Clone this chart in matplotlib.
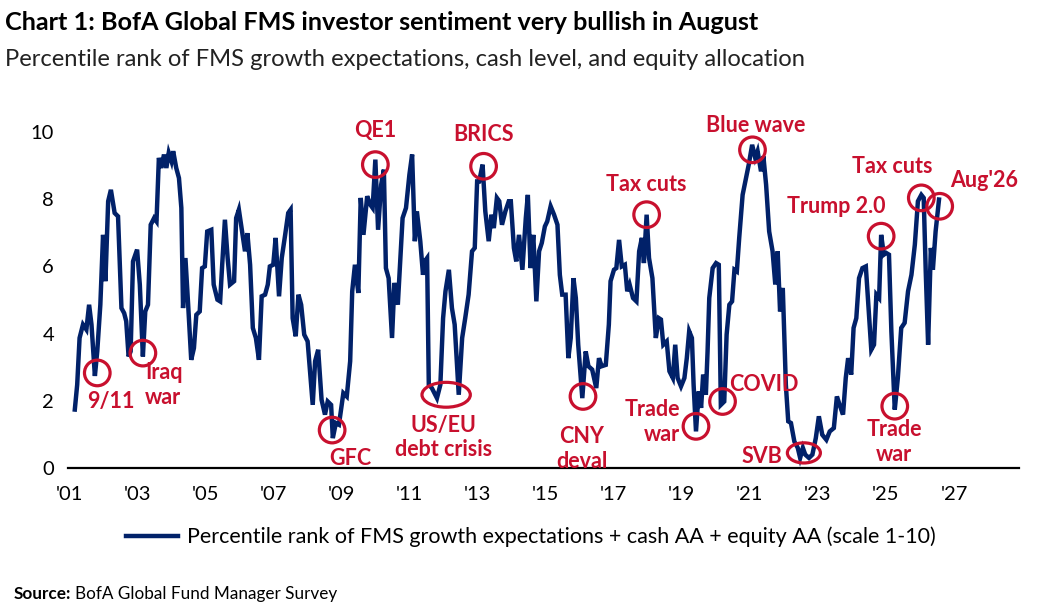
import matplotlib
matplotlib.use("Agg")
import matplotlib.pyplot as plt
from matplotlib.patches import Ellipse

# decimal year / percentile-rank reading of the FMS composite
years = [2001.17, 2001.24, 2001.31, 2001.41, 2001.51, 2001.59, 2001.66, 2001.76, 2001.83, 2001.92,
         2002.00, 2002.07, 2002.15, 2002.23, 2002.34, 2002.44, 2002.54, 2002.62, 2002.68, 2002.75,
         2002.81, 2002.88, 2003.00, 2003.08, 2003.17, 2003.24, 2003.32, 2003.40, 2003.50, 2003.57,
         2003.64, 2003.71, 2003.79, 2003.86, 2003.93, 2004.01, 2004.06, 2004.15, 2004.23, 2004.30,
         2004.35, 2004.42, 2004.50, 2004.59, 2004.67, 2004.74, 2004.84, 2004.91, 2004.99, 2005.06,
         2005.18, 2005.25, 2005.36, 2005.44, 2005.50, 2005.58, 2005.66, 2005.73, 2005.85, 2005.91,
         2005.99, 2006.07, 2006.17, 2006.24, 2006.32, 2006.40, 2006.49, 2006.58, 2006.66, 2006.76,
         2006.84, 2006.90, 2007.00, 2007.07, 2007.17, 2007.25, 2007.35, 2007.44, 2007.51, 2007.57,
         2007.66, 2007.74, 2007.82, 2007.91, 2008.01, 2008.08, 2008.16, 2008.23, 2008.32, 2008.42,
         2008.52, 2008.60, 2008.70, 2008.75, 2008.84, 2008.93, 2009.06, 2009.16, 2009.26, 2009.32,
         2009.40, 2009.50, 2009.57, 2009.65, 2009.76, 2009.85, 2009.92, 2010.00, 2010.08, 2010.17,
         2010.25, 2010.31, 2010.39, 2010.49, 2010.56, 2010.66, 2010.73, 2010.80, 2010.90, 2011.00,
         2011.08, 2011.16, 2011.22, 2011.32, 2011.40, 2011.45, 2011.52, 2011.57, 2011.66, 2011.81,
         2011.91, 2011.99, 2012.06, 2012.16, 2012.25, 2012.33, 2012.45, 2012.55, 2012.64, 2012.74,
         2012.84, 2012.92, 2012.99, 2013.05, 2013.15, 2013.23, 2013.33, 2013.41, 2013.48, 2013.57,
         2013.64, 2013.72, 2013.82, 2013.92, 2013.98, 2014.07, 2014.14, 2014.22, 2014.32, 2014.42,
         2014.48, 2014.56, 2014.64, 2014.73, 2014.81, 2014.89, 2014.98, 2015.05, 2015.15, 2015.25,
         2015.35, 2015.42, 2015.49, 2015.59, 2015.67, 2015.74, 2015.82, 2015.89, 2015.96, 2016.08,
         2016.18, 2016.26, 2016.37, 2016.49, 2016.57, 2016.65, 2016.77, 2016.86, 2016.91, 2017.01,
         2017.08, 2017.16, 2017.24, 2017.33, 2017.40, 2017.47, 2017.57, 2017.67, 2017.75, 2017.83,
         2017.89, 2017.97, 2018.04, 2018.14, 2018.24, 2018.33, 2018.39, 2018.46, 2018.56, 2018.64,
         2018.74, 2018.81, 2018.88, 2018.98, 2019.08, 2019.15, 2019.22, 2019.30, 2019.35, 2019.42,
         2019.50, 2019.57, 2019.63, 2019.71, 2019.76, 2019.81, 2019.91, 2020.01, 2020.09, 2020.15,
         2020.25, 2020.32, 2020.40, 2020.48, 2020.55, 2020.62, 2020.69, 2020.79, 2020.87, 2020.97,
         2021.07, 2021.16, 2021.23, 2021.33, 2021.40, 2021.48, 2021.57, 2021.67, 2021.75, 2021.82,
         2021.89, 2021.97, 2022.06, 2022.13, 2022.21, 2022.31, 2022.41, 2022.48, 2022.56, 2022.63,
         2022.74, 2022.84, 2022.94, 2023.03, 2023.13, 2023.25, 2023.35, 2023.47, 2023.56, 2023.64,
         2023.74, 2023.82, 2023.89, 2023.98, 2024.05, 2024.13, 2024.21, 2024.31, 2024.41, 2024.47,
         2024.57, 2024.65, 2024.72, 2024.80, 2024.86, 2024.94, 2025.01, 2025.09, 2025.16, 2025.26,
         2025.35, 2025.45, 2025.55, 2025.65, 2025.75, 2025.85, 2025.94, 2026.04, 2026.11, 2026.17,
         2026.24, 2026.32, 2026.38, 2026.46, 2026.56]
values = [1.74, 2.48, 3.87, 4.27, 4.12, 4.86, 4.27, 2.74, 3.48, 4.86,
          6.94, 5.56, 7.94, 8.28, 7.59, 7.49, 4.76, 4.61, 4.37, 3.32,
          3.47, 6.15, 6.50, 5.46, 3.32, 4.66, 4.86, 7.24, 7.44, 7.34,
          9.23, 8.93, 9.33, 8.93, 9.38, 9.13, 9.43, 8.93, 8.63, 7.74,
          4.76, 6.25, 4.86, 3.22, 3.57, 4.56, 4.66, 5.95, 6.00, 7.04,
          7.09, 5.46, 5.01, 4.96, 6.05, 7.39, 6.25, 5.46, 5.56, 7.44,
          7.69, 7.14, 6.45, 6.99, 6.05, 4.17, 3.87, 3.22, 5.11, 5.16,
          5.46, 6.00, 6.05, 6.85, 5.11, 6.25, 6.94, 7.59, 7.69, 4.46,
          3.92, 5.16, 4.86, 3.97, 3.77, 2.88, 1.88, 3.18, 3.52, 2.03,
          1.59, 1.98, 1.88, 0.89, 1.34, 1.29, 2.23, 2.13, 3.18, 5.26,
          6.05, 5.21, 8.04, 6.94, 8.09, 7.84, 7.74, 9.18, 7.09, 8.43,
          8.88, 5.95, 5.65, 3.87, 5.51, 4.86, 6.15, 7.44, 7.74, 8.73,
          9.33, 6.75, 7.64, 6.75, 5.75, 6.15, 6.25, 2.48, 2.38, 2.08,
          2.48, 4.46, 5.26, 5.90, 4.76, 4.27, 2.18, 3.87, 4.46, 5.16,
          6.45, 6.55, 8.53, 8.53, 9.03, 7.64, 6.75, 7.54, 7.14, 8.04,
          7.94, 7.24, 7.64, 7.94, 7.94, 6.55, 6.15, 6.94, 5.90, 7.44,
          8.13, 5.95, 6.94, 4.96, 6.45, 6.70, 7.19, 7.34, 7.79, 7.54,
          7.24, 5.75, 5.16, 5.16, 3.27, 3.87, 5.65, 5.06, 3.67, 2.08,
          3.47, 3.03, 2.93, 2.38, 3.27, 3.03, 3.07, 4.27, 5.56, 5.90,
          5.95, 6.79, 6.00, 6.05, 5.26, 5.46, 5.06, 4.96, 6.45, 6.85,
          6.10, 7.54, 6.25, 5.65, 3.87, 4.46, 4.42, 3.67, 3.77, 2.88,
          2.68, 3.67, 2.68, 2.43, 2.68, 3.27, 4.07, 3.87, 2.48, 1.09,
          2.28, 1.79, 2.78, 2.18, 3.47, 5.06, 5.95, 6.10, 6.05, 1.88,
          1.98, 3.97, 4.86, 4.96, 5.90, 5.85, 6.85, 8.13, 8.53, 9.03,
          9.62, 9.23, 9.43, 8.83, 9.28, 8.43, 7.04, 6.45, 5.46, 6.45,
          4.66, 5.36, 2.48, 1.39, 1.34, 0.79, 0.60, 0.30, 0.60, 0.40,
          0.30, 0.40, 0.89, 1.54, 0.99, 0.84, 1.09, 1.19, 2.13, 1.88,
          1.59, 2.68, 3.27, 2.78, 4.17, 4.46, 5.65, 5.95, 6.00, 5.06,
          3.52, 3.67, 5.16, 5.06, 6.94, 6.35, 6.40, 6.35, 4.07, 1.74,
          2.68, 4.17, 4.32, 5.26, 5.75, 6.65, 7.94, 8.13, 8.04, 5.85,
          3.67, 6.55, 5.90, 7.04, 7.99]

# highlighted events: circle centre (year, value) and label anchor
circle_labels = ["9/11", "Iraq\nwar", "GFC", "QE1", "BRICS", "CNY\ndeval", "Tax cuts",
                 "Trade\nwar", "COVID", "Blue wave", "Trump 2.0", "Trade\nwar", "Tax cuts", "Aug'26"]
circle_x = [2001.83, 2003.17, 2008.73, 2010.00, 2013.18, 2016.10, 2017.97,
            2019.42, 2020.20, 2021.08, 2024.86, 2025.26, 2026.04, 2026.58]
circle_y = [2.83, 3.42, 1.13, 9.03, 8.98, 2.13, 7.54,
            1.24, 1.98, 9.47, 6.90, 1.84, 8.04, 7.79]
label_x = [2002.23, 2003.23, 2009.28, 2010.00, 2013.18, 2016.06, 2017.97,
           2018.95, 2021.42, 2021.18, 2023.53, 2025.24, 2025.18, 2027.90]
label_y = [1.99, 2.47, 0.27, 10.06, 9.94, 0.57, 8.45,
           1.37, 2.50, 10.18, 7.77, 0.77, 8.96, 8.57]
label_ha = ['center', 'left', 'center', 'center', 'center', 'center', 'center',
            'right', 'center', 'center', 'center', 'center', 'center', 'center']

ellipse_labels = ["US/EU\ndebt crisis", "SVB"]
ellipse_x = [2012.08, 2022.59]
ellipse_y = [2.18, 0.45]
ellipse_label_x = [2011.99, 2021.36]
ellipse_label_y = [0.91, 0.33]

tick_years = list(range(2001, 2028, 2))
tick_labels = ["'%02d" % (y % 100) for y in tick_years]

NAVY = "#012169"
RED = "#C8102E"

plt.rcParams['font.family'] = ['Lato', 'DejaVu Sans']

fig = plt.figure(figsize=(10.42, 6.13), dpi=100)
ax = fig.add_axes([68 / 1042, 0.2365, (1019 - 68) / 1042, 0.823 - 0.2365])

ax.plot(years, values, color=NAVY, lw=3.2, solid_joinstyle='miter',
        label='Percentile rank of FMS growth expectations + cash AA + equity AA (scale 1-10)')

ax.scatter(circle_x, circle_y, s=340, facecolors='none', edgecolors=RED, linewidths=2.3, zorder=4)
for txt, x, y, ha in zip(circle_labels, label_x, label_y, label_ha):
    ax.text(x, y, txt, color=RED, fontsize=15.5, fontweight='bold', ha=ha, va='center',
            multialignment=ha, linespacing=1.2, clip_on=False)

for x, y in zip(ellipse_x, ellipse_y):
    w = 1.42 if y > 1 else 0.97
    h = 0.74 if y > 1 else 0.6
    ax.add_patch(Ellipse((x, y), w, h, fill=False, edgecolor=RED, lw=2.3, zorder=4))
for txt, x, y in zip(ellipse_labels, ellipse_label_x, ellipse_label_y):
    ax.text(x, y, txt, color=RED, fontsize=15.5, fontweight='bold', ha='center', va='center',
            linespacing=1.2, clip_on=False)

ax.set_xlim(2000.97, 2028.91)
ax.set_ylim(0, 10.7)
ax.set_xticks(tick_years)
ax.set_xticklabels(tick_labels)
ax.set_yticks([0, 2, 4, 6, 8, 10])
ax.tick_params(length=0, labelsize=14.5, pad=13)
ax.tick_params(axis='y', pad=10)
for side in ['top', 'right', 'left']:
    ax.spines[side].set_visible(False)
ax.spines['bottom'].set_linewidth(1.6)

fig.legend(loc='center', bbox_to_anchor=(531 / 1042, 1 - 537 / 613), frameon=False,
           fontsize=15.5, handlelength=2.4, handletextpad=0.4)

fig.text(5 / 1042, 1 - 22 / 613, "Chart 1: BofA Global FMS investor sentiment very bullish in August",
         fontsize=18.2, fontweight='bold', va='center', ha='left')
fig.text(5 / 1042, 1 - 60 / 613, "Percentile rank of FMS growth expectations, cash level, and equity allocation",
         fontsize=17.1, fontweight='normal', color='#222222', va='center', ha='left')

src = fig.text(14 / 1042, 1 - 594 / 613, "Source:", fontsize=12.3, fontweight='bold', va='center', ha='left')
fig.canvas.draw()
bb = src.get_window_extent()
fig.text(bb.x1 / 1042 + 0.003, 1 - 594 / 613, "BofA Global Fund Manager Survey", fontsize=12.3,
         va='center', ha='left')

fig.savefig('out.png', dpi=100)
